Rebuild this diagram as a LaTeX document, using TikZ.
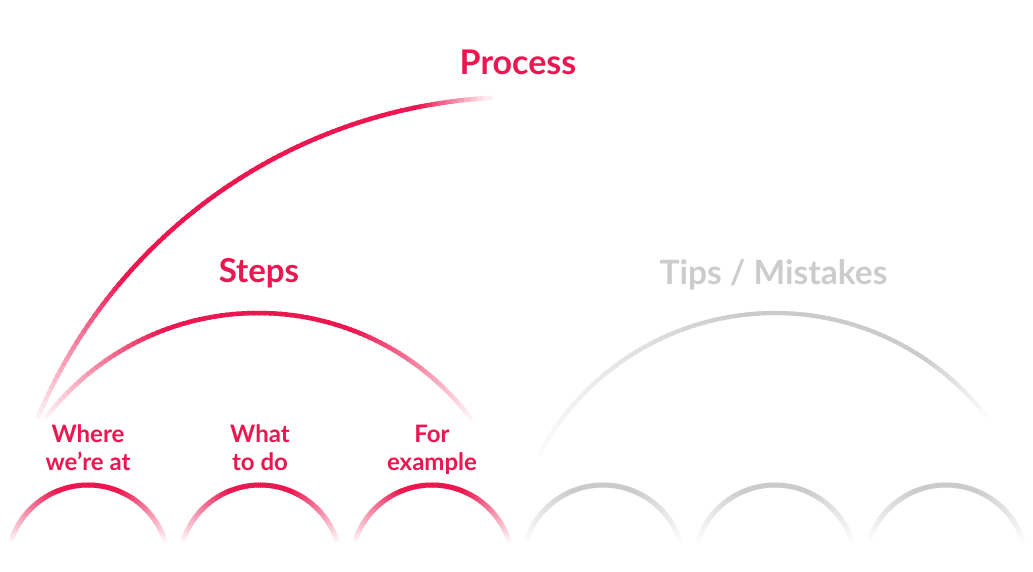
\documentclass[tikz,border=0pt]{standalone}
\usepackage{fontspec}
\setmainfont{Lato}
\definecolor{crim}{RGB}{236,22,80}
\definecolor{greyarc}{RGB}{203,203,203}
\definecolor{greytxt}{RGB}{204,204,204}
\newcommand\fadearc[9]{%
  % #1 cx, #2 cy, #3 R, #4 a1, #5 a2, #6 fade1, #7 fade2, #8 colour, #9 width
  \foreach \i in {0,...,89}{%
    \pgfmathsetmacro\aa{#4+(#5-#4)*\i/90}%
    \pgfmathsetmacro\ab{#4+(#5-#4)*(\i+1.4)/90}%
    \pgfmathsetmacro\am{#4+(#5-#4)*(\i+0.5)/90}%
    \pgfmathsetmacro\da{abs(\am-#4)/#6}%
    \pgfmathsetmacro\db{abs(#5-\am)/#7}%
    \pgfmathsetmacro\op{100*min(1,0.04+0.96*min(\da,\db))}%
    \draw[line width=#9, color=#8!\op!white]
      ($(#1,#2)+(\aa:#3)$) arc[start angle=\aa, end angle=\ab, radius=#3];
  }%
}
\usetikzlibrary{calc}
\tikzset{
  lbl/.style={font=\bfseries\fontsize{24}{28}\selectfont, text=crim, align=center, inner sep=0pt},
  ttl/.style={font=\bfseries\fontsize{34}{38}\selectfont, inner sep=0pt, anchor=base}
}
\begin{document}
\begin{tikzpicture}[x=1pt,y=1pt]
\useasboundingbox (0,0) rectangle (1033,571);
% big arcs
\fadearc{520}{-49}{523}{157.3}{93.3}{18}{8}{crim}{4.5pt}
\fadearc{258}{-9.5}{267.5}{142.6}{37.4}{32}{32}{crim}{4.5pt}
\fadearc{775}{-9.5}{267.5}{152}{38.2}{55}{18}{greyarc}{4.2pt}
% small arcs
\foreach \cx/\col in {88/crim,260/crim,432/crim,603/greyarc,775/greyarc,946/greyarc}{
  \fadearc{\cx}{5}{81}{162}{18}{50}{50}{\col}{5pt}
}
% titles
\node[ttl, text=crim] (process) at (518,496) {Process};
\node[ttl, text=crim, font=\bfseries\fontsize{33}{37}\selectfont] (steps) at (259,288) {Steps};
\node[ttl, text=greytxt, font=\bfseries\fontsize{33.5}{37}\selectfont] (tips) at (773.5,286) {Tips / Mistakes};
% labels (anchor base = baseline of last line)
\node[lbl, anchor=base] (where) at (88,101) {Where\\we’re at};
\node[lbl, anchor=base] (what) at (260,101) {What\\to do};
\node[lbl, anchor=base] (for) at (432,101) {For\\example};
\end{tikzpicture}
\end{document}
